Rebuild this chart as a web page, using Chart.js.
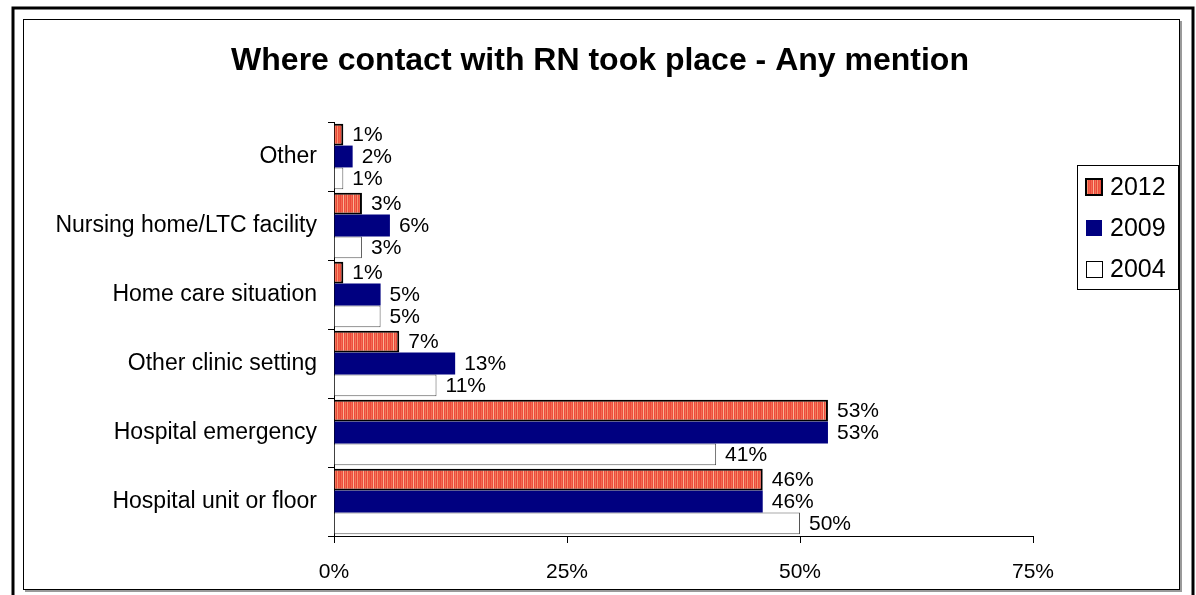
<!DOCTYPE html>
<html>
<head>
<meta charset="utf-8">
<title>Where contact with RN took place - Any mention</title>
<script src="https://cdn.jsdelivr.net/npm/chart.js@4/dist/chart.umd.min.js"></script>
<style>
    html, body { margin: 0; padding: 0; background: #fff; }
    #chart-js { display: block; }
</style>
</head>
<body>
<canvas id="chart-js" width="1196" height="595"></canvas>
<script>
// data
const titulo = 'Where contact with RN took place - Any mention';
const categorias = [
    'Other',
    'Nursing home/LTC facility',
    'Home care situation',
    'Other clinic setting',
    'Hospital emergency',
    'Hospital unit or floor'
];
const series = ['2012', '2009', '2004'];
const valores2012 = [1, 3, 1, 7, 53, 46];
const valores2009 = [2, 6, 5, 13, 53, 46];
const valores2004 = [1, 3, 5, 11, 41, 50];
const ticksX = [0, 25, 50, 75];

const fuente = 'Arial, "Liberation Sans", sans-serif';

// striped red fill used by the 2012 bars
function crearPatron() {
    const c = document.createElement('canvas');
    c.width = 10; c.height = 4;
    const g = c.getContext('2d');
    const cols = ['#ea4a3b', '#f36a50', '#ee5040', '#f8b496', '#ec4c3d',
                  '#f47458', '#e9483a', '#f6946f', '#ee503f', '#f26048'];
    cols.forEach((col, i) => { g.fillStyle = col; g.fillRect(i, 0, 1, 4); });
    return g.createPattern(c, 'repeat');
}
const patron = crearPatron();

const marco = {
    id: 'marco',
    beforeDraw(chart) {
        const ctx = chart.ctx;
        ctx.save();
        ctx.fillStyle = '#fff';
        ctx.fillRect(0, 0, chart.width, chart.height);
        // outer frame
        ctx.strokeStyle = '#000';
        ctx.lineWidth = 3;
        ctx.strokeRect(13, 8, 1180, 590);
        // inner frame with shadow
        ctx.fillStyle = '#9a9a9a';
        ctx.fillRect(1180, 21, 2, 570);
        ctx.fillRect(25, 590, 1157, 2);
        ctx.lineWidth = 1;
        ctx.strokeStyle = '#000';
        ctx.strokeRect(23.5, 19.5, 1156, 570);
        // title
        ctx.fillStyle = '#000';
        ctx.font = 'bold 32px ' + fuente;
        ctx.textAlign = 'center';
        ctx.textBaseline = 'alphabetic';
        ctx.fillText(titulo, 600, 70);
        ctx.restore();
    }
};

const etiquetas = {
    id: 'etiquetas',
    afterDatasetsDraw(chart) {
        const ctx = chart.ctx;
        ctx.save();
        ctx.fillStyle = '#000';
        ctx.font = '21px ' + fuente;
        ctx.textAlign = 'left';
        ctx.textBaseline = 'middle';
        chart.data.datasets.forEach((ds, d) => {
            chart.getDatasetMeta(d).data.forEach((el, i) => {
                ctx.fillText(ds.data[i] + '%', el.x + 9, el.y + 1);
            });
        });
        ctx.restore();
    }
};

const leyenda = {
    id: 'leyenda',
    afterDraw(chart) {
        const ctx = chart.ctx;
        ctx.save();
        ctx.fillStyle = '#fff';
        ctx.fillRect(1077, 165, 101, 124);
        ctx.strokeStyle = '#000';
        ctx.lineWidth = 1;
        ctx.strokeRect(1077.5, 165.5, 101, 124);
        const filas = [187, 228, 269];
        ctx.font = '25px ' + fuente;
        ctx.textBaseline = 'middle';
        ctx.textAlign = 'left';
        chart.data.datasets.forEach((ds, i) => {
            const y = filas[i];
            ctx.fillStyle = ds.backgroundColor;
            ctx.fillRect(1086, y - 8, 16, 16);
            if (ds.borderWidth) {
                ctx.strokeStyle = '#000';
                ctx.lineWidth = ds.borderWidth === 2 ? 2 : 1;
                const o = ds.borderWidth === 2 ? 0 : 0.5;
                ctx.strokeRect(1086 + o, y - 8 + o, 16, 16);
            }
            ctx.fillStyle = '#000';
            ctx.fillText(ds.label, 1110, y + 1);
        });
        ctx.restore();
    }
};

const data = {
    labels: categorias,
    datasets: [
        { label: series[0], data: valores2012, backgroundColor: patron, borderColor: '#000', borderWidth: 2 },
        { label: series[1], data: valores2009, backgroundColor: '#000080', borderWidth: 0 },
        { label: series[2], data: valores2004, backgroundColor: '#ffffff', borderColor: '#555', borderWidth: 1 }
    ]
};

const config = {
    type: 'bar',
    data: data,
    plugins: [marco, etiquetas, leyenda],
    options: {
        indexAxis: 'y',
        responsive: false,
        animation: false,
        events: [],
        layout: { padding: { top: 122, right: 163, left: 0, bottom: 0 } },
        datasets: {
            bar: { categoryPercentage: 0.95, barPercentage: 1 }
        },
        plugins: {
            legend: { display: false },
            title: { display: false },
            tooltip: { enabled: false }
        },
        scales: {
            x: {
                min: 0,
                max: 75,
                afterBuildTicks: s => { s.ticks = ticksX.map(v => ({ value: v })); },
                afterFit: s => { s.height = 59; },
                grid: { drawOnChartArea: false, drawTicks: true, tickLength: 7, color: '#000' },
                border: { color: '#000', width: 1 },
                ticks: {
                    color: '#000',
                    font: { family: fuente, size: 21 },
                    padding: 17,
                    maxRotation: 0,
                    callback: v => v + '%'
                }
            },
            y: {
                afterFit: s => { s.width = 334; },
                grid: { drawOnChartArea: false, drawTicks: true, tickLength: 6, color: '#000', offset: true },
                border: { color: '#000', width: 1 },
                ticks: {
                    color: '#000',
                    font: { family: fuente, size: 23 },
                    padding: 11
                }
            }
        }
    }
};

const ctx = document.getElementById('chart-js');
if (ctx) new Chart(ctx, config);
</script>
</body>
</html>
